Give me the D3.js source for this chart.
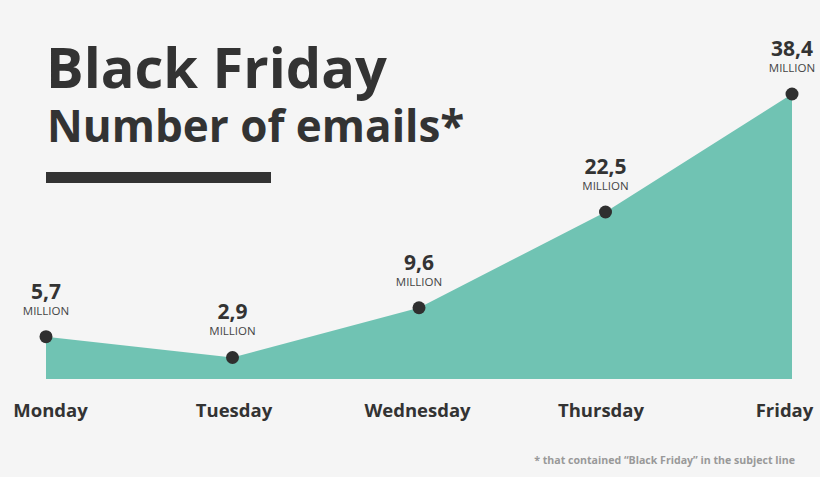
<!DOCTYPE html>
<html>
<head>
<meta charset="utf-8">
<script src="https://cdn.jsdelivr.net/npm/d3@7"></script>
<style>
  body { margin: 0; background: #f5f5f5; }
  svg { display: block; font-family: "Open Sans", sans-serif; }
</style>
</head>
<body>
<script>
var days = ["Monday", "Tuesday", "Wednesday", "Thursday", "Friday"];
var emails = [5.7, 2.9, 9.6, 22.5, 38.4];
var valueLabels = ["5,7", "2,9", "9,6", "22,5", "38,4"];

var W = 820, H = 477;
var svg = d3.select("body").append("svg")
	.attr("width", W)
	.attr("height", H);

svg.append("rect").attr("width", W).attr("height", H).attr("fill", "#f5f5f5");

var x = d3.scalePoint().domain(days).range([46, 792]);
var xLabel = d3.scalePoint().domain(days).range([50, 784]);
var y = d3.scaleLinear().domain([0, 38.4]).range([379, 94]);

var pts = days.map(function(d, i){ return {day: d, v: emails[i], lab: valueLabels[i]}; });

var area = d3.area()
	.x(function(d){ return x(d.day); })
	.y0(y(0))
	.y1(function(d){ return y(d.v); })
	.curve(d3.curveLinear);

svg.append("path").datum(pts)
	.attr("d", area)
	.attr("fill", "#70c3b3");

svg.selectAll("circle.pt").data(pts).enter().append("circle")
	.attr("class", "pt")
	.attr("cx", function(d){ return x(d.day); })
	.attr("cy", function(d){ return y(d.v); })
	.attr("r", 6.5)
	.attr("fill", "#2f2f2f");

svg.selectAll("text.val").data(pts).enter().append("text")
	.attr("class", "val")
	.attr("x", function(d){ return x(d.day); })
	.attr("y", function(d){ return y(d.v) - 38; })
	.attr("text-anchor", "middle")
	.attr("font-size", 21)
	.attr("font-weight", 700)
	.attr("fill", "#333")
	.text(function(d){ return d.lab; });

svg.selectAll("text.mil").data(pts).enter().append("text")
	.attr("class", "mil")
	.attr("x", function(d){ return x(d.day); })
	.attr("y", function(d){ return y(d.v) - 22; })
	.attr("text-anchor", "middle")
	.attr("font-size", 11.5)
	.attr("fill", "#444")
	.text("MILLION");

// day labels, no axis line
var xAxis = d3.axisBottom(xLabel).tickSize(0).tickPadding(0);
var ax = svg.append("g").attr("transform", "translate(0,404)").call(xAxis);
ax.select(".domain").remove();
ax.selectAll("text")
	.attr("font-family", "Open Sans, sans-serif")
	.attr("font-size", 18.5)
	.attr("font-weight", 700)
	.attr("fill", "#333");

// title
svg.append("text").attr("x", 46).attr("y", 88)
	.attr("font-size", 56).attr("font-weight", 700).attr("fill", "#333")
	.text("Black Friday");
svg.append("text").attr("x", 47).attr("y", 142)
	.attr("font-size", 44).attr("font-weight", 700).attr("fill", "#333")
	.text("Number of emails*");
svg.append("rect").attr("x", 46).attr("y", 172).attr("width", 225).attr("height", 11).attr("fill", "#333");

svg.append("text").attr("x", 795).attr("y", 464)
	.attr("text-anchor", "end")
	.attr("font-size", 10.6).attr("font-weight", 700).attr("fill", "#999")
	.text("* that contained \u201CBlack Friday\u201D in the subject line");
</script>
</body>
</html>
